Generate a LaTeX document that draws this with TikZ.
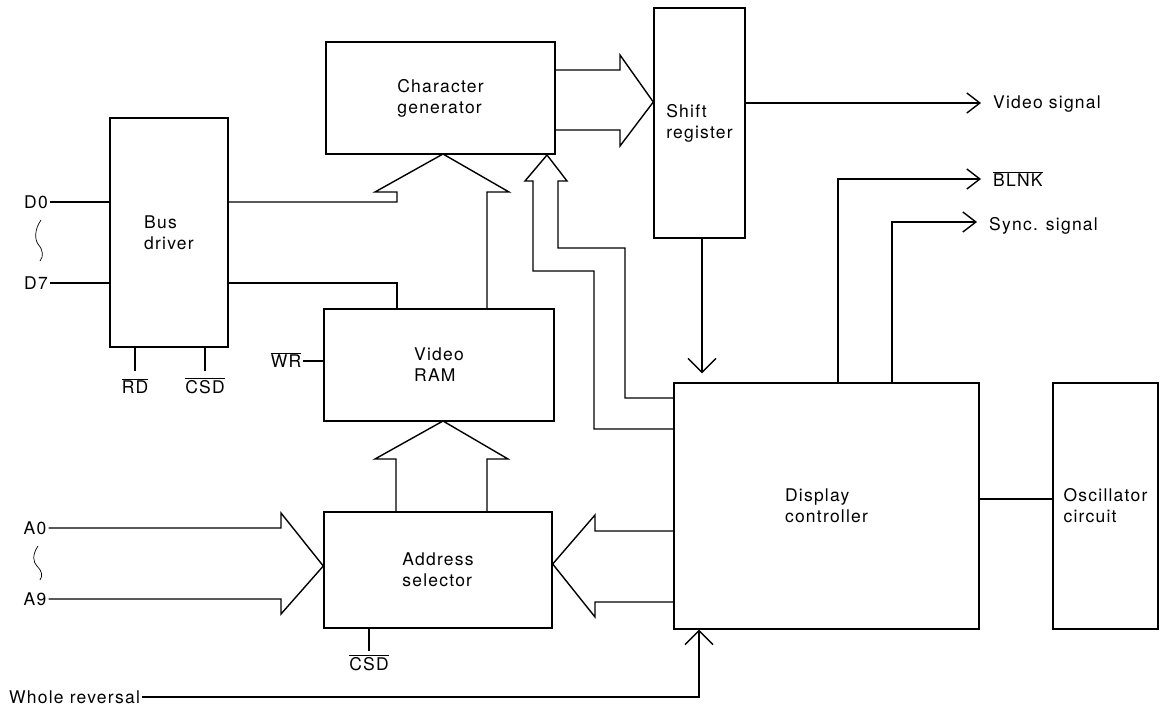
\documentclass[tikz,border=0pt]{standalone}
\usepackage{fontspec}
\setmainfont{TeX Gyre Heros}[LetterSpace=7]
\usetikzlibrary{arrows.meta,positioning,calc}
\newcommand{\ovl}[1]{$\overline{\mbox{#1}}$}

\begin{document}
\begin{tikzpicture}[
    x=1pt, y=-1pt,
    every node/.style={font=\fontsize{17.5}{21}\selectfont},
    blk/.style={draw, rectangle, align=left, inner sep=0pt, line width=1.4pt},
    wire/.style={line width=1.4pt},
    sig/.style={wire, -{Straight Barb[length=13pt,width=20pt]}, shorten >=10pt},
    sigw/.style={wire, -{Straight Barb[length=14pt,width=28pt]}},
    fat/.style={wire, line join=miter},
    squig/.style={line width=0.7pt},
    lab/.style={inner sep=2pt}
  ]
    \useasboundingbox (0,0) rectangle (1162,706);

    \node[blk, minimum width=118, minimum height=229] (bus)     at (169,232.5)  {Bus\\driver};
    \node[blk, minimum width=229, minimum height=112] (chargen) at (440.5,98)   {Character\\generator};
    \node[blk, minimum width=230, minimum height=112] (vram)    at (439,365)    {Video\\RAM};
    \node[blk, minimum width=228, minimum height=116] (addr)    at (438,570)    {Address\\selector};
    \node[blk, minimum width=91,  minimum height=230] (shift)   at (699.5,123)  {Shift\\register};
    \node[blk, minimum width=305, minimum height=246] (disp)    at (826.5,506)  {Display\\controller};
    \node[blk, minimum width=105, minimum height=246] (osc)     at (1105.5,506) {Oscillator\\circuit};

    \node[lab] (d0) at (36,202) {D0};
    \node[lab] (d7) at (36,283) {D7};
    \node[lab] (a0) at (35,528) {A0};
    \node[lab] (a9) at (35,599) {A9};
    \node[lab, anchor=base] (rd)   at (135,393) {\ovl{RD}};
    \node[lab, anchor=base] (csda) at (205,393) {\ovl{CSD}};
    \node[lab, anchor=base] (wr)   at (286,367) {\ovl{WR}};
    \node[lab, anchor=base] (csdb) at (369,670) {\ovl{CSD}};
    \node[lab, anchor=base west] (whole) at (7,703) {Whole reversal};
    \node[lab, anchor=base west] (vsig)  at (991,109) {Video signal};
    \node[lab, anchor=base west] (blnk)  at (991,186) {\ovl{BLNK}};
    \node[lab, anchor=base west] (sync)  at (987,230) {Sync. signal};

    \draw[wire] (d0.east) -- (bus.west |- d0.east);
    \draw[wire] (d7.east) -- (bus.west |- d7.east);
    \draw[squig] (41,220) .. controls (34,230) and (35,240) .. (38,244) .. controls (43,250) and (44,256) .. (40,261);
    \draw[squig] (38,546) .. controls (32,555) and (33,562) .. (37,566) .. controls (42,571) and (43,576) .. (40,580);
    \draw[wire] (bus.south -| rd.north) -- ++(0,23);
    \draw[wire] (bus.south -| csda.north) -- ++(0,23);
    \draw[wire] (wr.east |- 0,361) -- (vram.west |- 0,361);
    \draw[wire] (addr.south -| csdb.north) -- ++(0,22);

    \draw[fat] (bus.east |- 0,202) -- (397,202) -- (397,192) -- (375,192) -- (443,154) -- (509,192) -- (487,192) -- (vram.north -| 487,0);
    \draw[wire] (bus.east |- 0,283) -| (vram.north -| 397,0);
    \draw[fat] (addr.north -| 396,0) -- (396,459) -- (375,459) -- (443,421) -- (508,459) -- (487,459) -- (addr.north -| 487,0);
    \draw[fat] (a0.east) -- (281,528) -- (281,513) -- (addr.west |- 0,566) -- (281,614) -- (281,599) -- (a9.east);
    \draw[fat] (disp.west |- 0,531) -- (595,531) -- (595,515) -- (addr.east |- 0,564) -- (595,617) -- (595,602) -- (disp.west |- 0,602);
    \draw[fat] (chargen.east |- 0,70) -- (620,70) -- (620,55) -- (shift.west |- 0,102) -- (620,146) -- (620,130) -- (chargen.east |- 0,130);
    \draw[fat] (disp.west |- 0,398) -| (625,248) -- (558,248) -- (558,181) -- (567,181) -- (547,155) -- (525,181) -- (533,181) -- (533,271) -| (594,429) -- (disp.west |- 0,429);

    \draw[sig] (shift.east |- 0,103) -- (vsig.west |- 0,103);
    \draw[sig] (disp.north -| 838,0) |- (blnk.west |- 0,179);
    \draw[sig] (disp.north -| 892,0) |- (sync.west |- 0,222);
    \draw[sigw, shorten >=9pt] (shift.south -| 702,0) -- (disp.north -| 702,0);
    \draw[sigw] (whole.east |- 0,697) -| (disp.south -| 699,0);
    \draw[wire] (disp.east |- 0,499) -- (osc.west |- 0,499);
  \end{tikzpicture}
\end{document}
